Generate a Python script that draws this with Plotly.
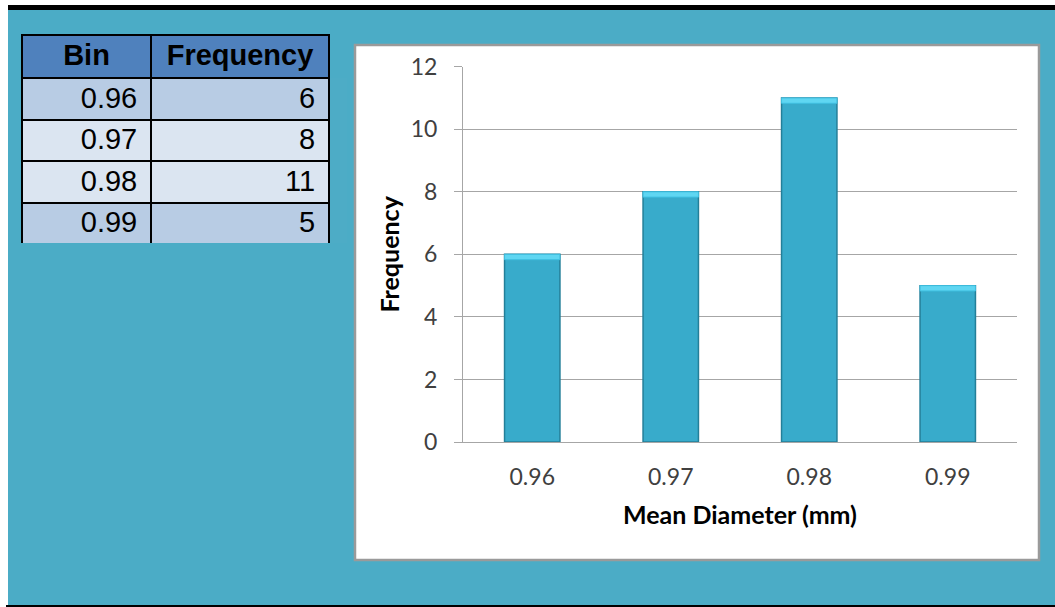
import plotly.graph_objects as go

# Frequency table of mean diameters
bins = ["0.96", "0.97", "0.98", "0.99"]
frequency = [6, 8, 11, 5]

W, H = 1055, 607


def px(x):
    return x / W


def py(y):
    return 1 - y / H


TEAL = "#4bacc6"
BAR_MAIN = "#38abcb"
BAR_EDGE = "#237f99"
BAR_CAP = "#5fd6f2"
GRID = "#a6a6a6"

fig = go.Figure()

# Data table on the left
fig.add_trace(go.Table(
    domain=dict(x=[px(22), px(329)], y=[py(243), py(35)]),
    columnwidth=[129, 178],
    header=dict(
        values=["Bin", "Frequency"],
        fill_color="#4f81bd",
        line=dict(color="black", width=2),
        align="center",
        height=43,
        font=dict(family="Liberation Sans, Arial, sans-serif", size=29, color="black", weight="bold"),
    ),
    cells=dict(
        values=[bins, [str(v) for v in frequency]],
        suffix="\u202f",
        fill_color=[["#b8cce4", "#dbe5f1", "#dbe5f1", "#b8cce4"]] * 2,
        line=dict(color="black", width=2),
        align="right",
        height=41.5,
        font=dict(family="Liberation Sans, Arial, sans-serif", size=29, color="black"),
    ),
))

# Histogram bars
fig.add_trace(go.Bar(
    x=bins, y=frequency, width=0.4,
    marker=dict(color=BAR_MAIN, line=dict(color=BAR_EDGE, width=1.5)),
    hoverinfo="x+y", showlegend=False,
))
# Bevelled highlight along the top of each bar
cap = 0.17
fig.add_trace(go.Bar(
    x=bins, y=[cap] * len(frequency), base=[v - cap for v in frequency], width=0.4,
    marker=dict(color=BAR_CAP, line=dict(color="#3fbfe0", width=1)),
    hoverinfo="skip", showlegend=False,
))

shapes = [
    # teal slide background
    dict(type="rect", xref="paper", yref="paper", x0=px(8), x1=1, y0=py(605), y1=py(10),
         fillcolor=TEAL, line=dict(width=0), layer="below"),
    # black rules at top and bottom
    dict(type="rect", xref="paper", yref="paper", x0=px(8), x1=1, y0=py(10), y1=py(5),
         fillcolor="black", line=dict(width=0), layer="below"),
    dict(type="rect", xref="paper", yref="paper", x0=px(6), x1=1, y0=py(607), y1=py(605),
         fillcolor="black", line=dict(width=0), layer="below"),
    # white chart panel
    dict(type="rect", xref="paper", yref="paper", x0=px(355), x1=px(1039), y0=py(560), y1=py(45),
         fillcolor="white", line=dict(color="#9a9a9a", width=2.5), layer="below"),
]

fig.update_layout(
    width=W, height=H,
    margin=dict(l=0, r=0, t=0, b=0, autoexpand=False),
    paper_bgcolor="white",
    plot_bgcolor="rgba(0,0,0,0)",
    barmode="overlay",
    showlegend=False,
    shapes=shapes,
    font=dict(family="Lato, Open Sans, sans-serif", color="#404040"),
    xaxis=dict(
        domain=[px(463), px(1017)],
        type="category",
        automargin=False,
        showline=True, linecolor=GRID, linewidth=1,
        ticks="", showgrid=False,
        tickfont=dict(size=23, color="#404040"),
        ticklabelstandoff=14,
        title=dict(text="<b>Mean Diameter (mm)</b>", font=dict(size=25, color="black"), standoff=17),
    ),
    yaxis=dict(
        domain=[py(442), py(66.7)],
        range=[0, 12], dtick=2,
        automargin=False,
        showline=True, linecolor=GRID, linewidth=1,
        showgrid=True, gridcolor=GRID, gridwidth=1,
        zeroline=False,
        ticks="outside", ticklen=8, tickcolor=GRID, tickwidth=1,
        tickfont=dict(size=23, color="#404040"),
        ticklabelstandoff=12,
        title=dict(text="<b>Frequency</b>", font=dict(size=25, color="black"), standoff=3),
    ),
)

fig.write_html("out.html")
